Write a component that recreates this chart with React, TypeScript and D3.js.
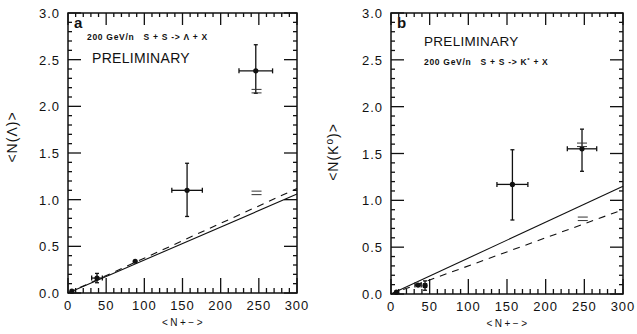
import React from "react";
import * as d3 from "d3";

// ---------- data ----------
const xTickValues = [0, 50, 100, 150, 200, 250, 300];
const yTickValues = [0, 0.5, 1.0, 1.5, 2.0, 2.5, 3.0];

// panel a: Lambda
const lambdaX = [5, 38, 88, 156, 246];
const lambdaY = [0.02, 0.16, 0.34, 1.10, 2.38];
const lambdaXErr = [0, 7, 0, 20, 22];
const lambdaYErrUp = [0, 0.05, 0, 0.29, 0.28];
const lambdaYErrDown = [0, 0.05, 0, 0.28, 0.24];
const lambdaMarkX = [247, 247];
const lambdaMarkY = [1.07, 2.16];
const lambdaSolidEnd = 1.06;
const lambdaDashedEnd = 1.12;

// panel b: K0
const kaonX = [7, 35, 44, 157, 247];
const kaonY = [0.02, 0.095, 0.09, 1.17, 1.55];
const kaonXErr = [0, 4, 2, 20, 19];
const kaonYErrUp = [0, 0, 0.05, 0.37, 0.21];
const kaonYErrDown = [0, 0, 0.05, 0.38, 0.24];
const kaonMarkX = [248, 247];
const kaonMarkY = [0.80, 1.59];
const kaonSolidEnd = 1.15;
const kaonDashedEnd = 0.90;

type PanelProps = {
  left: number;
  right: number;
  top: number;
  bottom: number;
  letter: string;
  yLabel: React.ReactNode;
  yLabelX: number;
  yLabelY: number;
  xs: number[];
  ys: number[];
  xErr: number[];
  yUp: number[];
  yDown: number[];
  markX: number[];
  markY: number[];
  solidEnd: number;
  dashedEnd: number;
  reactionFirst: boolean;
  reaction: React.ReactNode;
  prelimSize: number;
};

const FONT = "'Liberation Sans', Arial, sans-serif";

function Panel(p: PanelProps) {
  const x = d3.scaleLinear().domain([0, 300]).range([p.left, p.right]);
  const y = d3.scaleLinear().domain([0, 3]).range([p.bottom, p.top]);
  const line = d3
    .line<[number, number]>()
    .x((d) => x(d[0]))
    .y((d) => y(d[1]));

  const minorX = d3.range(0, 301, 10);
  const minorY = d3.range(0, 3.001, 0.1).map((v) => +v.toFixed(2));
  const sw = 1.3;

  return (
    <g>
      {/* frame */}
      <rect
        x={p.left}
        y={p.top}
        width={p.right - p.left}
        height={p.bottom - p.top}
        fill="none"
        stroke="#111"
        strokeWidth={1.5}
      />
      {/* x ticks bottom & top */}
      {minorX.map((v) => {
        const major = v % 50 === 0;
        return (
          <g key={"xt" + v}>
            <line x1={x(v)} x2={x(v)} y1={p.bottom} y2={p.bottom - (major ? 15 : 5)} stroke="#111" strokeWidth={sw} />
            <line x1={x(v)} x2={x(v)} y1={p.top} y2={p.top + (major ? 12 : 4)} stroke="#111" strokeWidth={sw} />
          </g>
        );
      })}
      {/* y ticks left & right */}
      {minorY.map((v) => {
        const major = Math.abs(v * 2 - Math.round(v * 2)) < 1e-6;
        return (
          <g key={"yt" + v}>
            <line x1={p.left} x2={p.left + (major ? 13 : 4)} y1={y(v)} y2={y(v)} stroke="#111" strokeWidth={sw} />
            <line x1={p.right} x2={p.right - (major ? 13 : 4)} y1={y(v)} y2={y(v)} stroke="#111" strokeWidth={sw} />
          </g>
        );
      })}
      {/* tick labels */}
      {xTickValues.map((v) => (
        <text key={"xl" + v} x={x(v)} y={p.bottom + 17} textAnchor="middle" fontFamily={FONT} fontSize={13} letterSpacing={1} fill="#111">
          {v}
        </text>
      ))}
      {yTickValues.map((v) => (
        <text key={"yl" + v} x={p.left - 8} y={y(v) + 5} textAnchor="end" fontFamily={FONT} fontSize={13} letterSpacing={1} fill="#111">
          {v.toFixed(1)}
        </text>
      ))}
      {/* axis titles */}
      <text x={(p.left + p.right) / 2 + 1} y={p.bottom + 33} textAnchor="middle" fontFamily={FONT} fontSize={10} letterSpacing={2.5} fill="#111">
        {"<N+−>"}
      </text>
      <text
        transform={`translate(${p.yLabelX},${p.yLabelY}) rotate(-90)`}
        textAnchor="middle"
        fontFamily={FONT}
        fontSize={14}
        letterSpacing={1}
        fill="#111"
      >
        {p.yLabel}
      </text>
      {/* panel letter */}
      <text x={p.left + 6} y={p.top + 15} fontFamily={FONT} fontSize={15} fontWeight="bold" fill="#111">
        {p.letter}
      </text>
      {/* annotation */}
      <text
        x={p.left + (p.reactionFirst ? 19 : 33)}
        y={p.top + (p.reactionFirst ? 27 : 52)}
        fontFamily={FONT}
        fontSize={8.5}
        fontWeight="bold"
        letterSpacing={0.7}
        fill="#111"
        style={{ whiteSpace: "pre" }}
      >
        {p.reaction}
      </text>
      <text
        x={p.left + (p.reactionFirst ? 24 : 33)}
        y={p.top + (p.reactionFirst ? 50 : 33)}
        fontFamily={FONT}
        fontSize={p.prelimSize}
        letterSpacing={0.3}
        fill="#111"
      >
        PRELIMINARY
      </text>
      {/* model lines */}
      <path d={line([[0, 0], [300, p.solidEnd]]) || ""} fill="none" stroke="#111" strokeWidth={1.1} />
      <path d={line([[0, 0], [300, p.dashedEnd]]) || ""} fill="none" stroke="#111" strokeWidth={1.1} strokeDasharray="7,6" />
      {/* data points */}
      {p.xs.map((xv, i) => {
        const cx = x(xv);
        const cy = y(p.ys[i]);
        const xl = x(xv - p.xErr[i]);
        const xr = x(xv + p.xErr[i]);
        const yt = y(p.ys[i] + p.yUp[i]);
        const yb = y(p.ys[i] - p.yDown[i]);
        return (
          <g key={"pt" + i}>
            {p.xErr[i] > 0 && (
              <g>
                <line x1={xl} x2={xr} y1={cy} y2={cy} stroke="#111" strokeWidth={1.3} />
                <line x1={xl} x2={xl} y1={cy - 2.5} y2={cy + 2.5} stroke="#111" strokeWidth={1.3} />
                <line x1={xr} x2={xr} y1={cy - 2.5} y2={cy + 2.5} stroke="#111" strokeWidth={1.3} />
              </g>
            )}
            {p.yUp[i] + p.yDown[i] > 0 && (
              <g>
                <line x1={cx} x2={cx} y1={yt} y2={yb} stroke="#111" strokeWidth={1.3} />
                <line x1={cx - 2} x2={cx + 2} y1={yt} y2={yt} stroke="#111" strokeWidth={1.3} />
                <line x1={cx - 2} x2={cx + 2} y1={yb} y2={yb} stroke="#111" strokeWidth={1.3} />
              </g>
            )}
            <circle cx={cx} cy={cy} r={2.6} fill="#111" />
          </g>
        );
      })}
      {/* "=" style markers */}
      {p.markX.map((mv, i) => (
        <g key={"mk" + i}>
          <line x1={x(mv) - 5} x2={x(mv) + 5} y1={y(p.markY[i]) - 2} y2={y(p.markY[i]) - 2} stroke="#333" strokeWidth={1} />
          <line x1={x(mv) - 5} x2={x(mv) + 5} y1={y(p.markY[i]) + 1.5} y2={y(p.markY[i]) + 1.5} stroke="#333" strokeWidth={1} />
        </g>
      ))}
    </g>
  );
}

export default function App() {
  return (
    <svg
      width={637}
      height={334}
      viewBox="0 0 637 334"
      style={{ position: "absolute", left: 0, top: 0, background: "#fff" }}
    >
      <rect x={0} y={0} width={637} height={334} fill="#fff" />
      <Panel
        left={68}
        right={297}
        top={13}
        bottom={293}
        letter="a"
        yLabel={"<N(Λ)>"}
        yLabelX={17}
        yLabelY={137}
        xs={lambdaX}
        ys={lambdaY}
        xErr={lambdaXErr}
        yUp={lambdaYErrUp}
        yDown={lambdaYErrDown}
        markX={lambdaMarkX}
        markY={lambdaMarkY}
        solidEnd={lambdaSolidEnd}
        dashedEnd={lambdaDashedEnd}
        reactionFirst={true}
        reaction={"200 GeV/n   S + S -> Λ + X"}
        prelimSize={14}
      />
      <Panel
        left={391}
        right={623}
        top={13}
        bottom={294}
        letter="b"
        yLabel={
          <>
            {"<N(K"}
            <tspan dy={-5} fontSize={10}>o</tspan>
            <tspan dy={5}>{")>"}</tspan>
          </>
        }
        yLabelX={338}
        yLabelY={152}
        xs={kaonX}
        ys={kaonY}
        xErr={kaonXErr}
        yUp={kaonYErrUp}
        yDown={kaonYErrDown}
        markX={kaonMarkX}
        markY={kaonMarkY}
        solidEnd={kaonSolidEnd}
        dashedEnd={kaonDashedEnd}
        reactionFirst={false}
        reaction={
          <>
            {"200 GeV/n   S + S -> K"}
            <tspan dy={-3} fontSize={6}>*</tspan>
            <tspan dy={3}>{" + X"}</tspan>
          </>
        }
        prelimSize={13.5}
      />
    </svg>
  );
}
